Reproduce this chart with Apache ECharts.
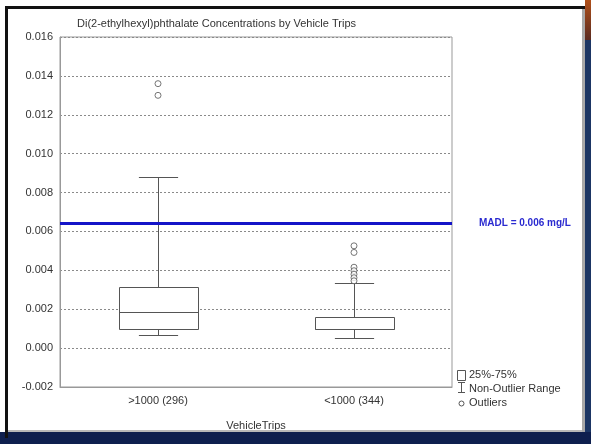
<!DOCTYPE html>
<html>
<head>
<meta charset="utf-8">
<script src="https://cdn.jsdelivr.net/npm/echarts@6/dist/echarts.min.js"></script>
<style>
html,body{margin:0;padding:0;background:#fff;}
#c{width:591px;height:444px;}
</style>
</head>
<body>
<div id="c"></div>
<script>
// ---- data ----
var categories = ['>1000 (296)', '<1000 (344)'];
var lowerWhisker = [0.00068, 0.00051];
var q1 = [0.00098, 0.00098];
var median = [0.00184, 0.00100];
var q3 = [0.00312, 0.00161];
var upperWhisker = [0.0088, 0.00333];
var outliersHigh = [0.0136, 0.0130];
var outliersLow = [0.00526, 0.00492, 0.00416, 0.00398, 0.00380, 0.00362, 0.00346];
var madl = 0.0064;
var yTicks = { min: -0.002, max: 0.016, interval: 0.002 };

var boxData = categories.map(function (c, i) {
  return [i, lowerWhisker[i], q1[i], median[i], q3[i], upperWhisker[i]];
});
var outlierData = outliersHigh.map(function (v) { return [0, v]; })
  .concat(outliersLow.map(function (v) { return [1, v]; }));

var FONT = '"Liberation Sans", Arial, sans-serif';
var INK = '#555';

function px(v) { return Math.round(v) + 0.5; }

var chart = echarts.init(document.getElementById('c'), null, { renderer: 'canvas' });
chart.setOption({
  animation: false,
  backgroundColor: '#fff',
  title: {
    text: 'Di(2-ethylhexyl)phthalate Concentrations by Vehicle Trips',
    left: 72, top: 13,
    textStyle: { fontFamily: FONT, fontSize: 11, fontWeight: 'normal', color: '#333' }
  },
  grid: { left: 60, top: 37, right: 139, bottom: 57, show: true, borderColor: '#999', borderWidth: 1, backgroundColor: 'transparent' },
  xAxis: {
    type: 'category',
    data: categories,
    boundaryGap: true,
    name: 'VehicleTrips',
    nameLocation: 'middle',
    nameGap: 33,
    nameTextStyle: { fontFamily: FONT, fontSize: 11, color: '#333' },
    axisLine: { onZero: false, lineStyle: { color: '#999' } },
    axisTick: { alignWithLabel: true, length: 3, lineStyle: { color: '#999' } },
    axisLabel: { fontFamily: FONT, fontSize: 11, color: '#333', margin: 8 },
    splitLine: { show: false }
  },
  yAxis: {
    type: 'value',
    min: yTicks.min, max: yTicks.max, interval: yTicks.interval,
    axisLine: { show: true, lineStyle: { color: '#999' } },
    axisTick: { show: false },
    axisLabel: {
      fontFamily: FONT, fontSize: 11, color: '#333', margin: 7,
      formatter: function (v) { return v.toFixed(3); }
    },
    splitLine: { show: true, lineStyle: { color: '#8a8a8a', type: [2, 2], width: 1 } }
  },
  series: [
    {
      type: 'custom',
      data: boxData,
      encode: { x: 0, y: [1, 2, 3, 4, 5] },
      z: 3,
      renderItem: function (params, api) {
        var idx = api.value(0);
        var cx = px(api.coord([idx, 0])[0]);
        var bw = api.size([1, 0])[0] * 0.4;
        var cw = bw / 2;
        var yLw = px(api.coord([idx, api.value(1)])[1]);
        var yQ1 = px(api.coord([idx, api.value(2)])[1]);
        var yMed = px(api.coord([idx, api.value(3)])[1]);
        var yQ3 = px(api.coord([idx, api.value(4)])[1]);
        var yUw = px(api.coord([idx, api.value(5)])[1]);
        var st = { stroke: INK, lineWidth: 1, fill: null };
        var bl = Math.round(cx - bw / 2) + 0.5, br = Math.round(cx + bw / 2) + 0.5;
        return {
          type: 'group',
          children: [
            { type: 'line', shape: { x1: cx, y1: yQ3, x2: cx, y2: yUw }, style: st },
            { type: 'line', shape: { x1: cx, y1: yQ1, x2: cx, y2: yLw }, style: st },
            { type: 'line', shape: { x1: cx - cw / 2, y1: yUw, x2: cx + cw / 2, y2: yUw }, style: st },
            { type: 'line', shape: { x1: cx - cw / 2, y1: yLw, x2: cx + cw / 2, y2: yLw }, style: st },
            { type: 'rect', shape: { x: bl, y: yQ3, width: br - bl, height: yQ1 - yQ3 }, style: { stroke: INK, lineWidth: 1, fill: '#fff' } },
            { type: 'line', shape: { x1: bl, y1: yMed, x2: br, y2: yMed }, style: st }
          ]
        };
      }
    },
    {
      type: 'scatter',
      data: outlierData,
      symbol: 'circle',
      symbolSize: 6,
      z: 4,
      itemStyle: { color: '#fff', borderColor: INK, borderWidth: 1 },
      markLine: {
        silent: true,
        precision: 5,
        symbol: ['none', 'none'],
        data: [{ yAxis: madl }],
        lineStyle: { color: '#1414c8', width: 3, type: 'solid' },
        label: {
          show: true, position: 'end', distance: 27,
          formatter: 'MADL = 0.006 mg/L',
          fontFamily: FONT, fontSize: 10, fontWeight: 'bold', color: '#2a2ad0'
        }
      }
    }
  ],
  graphic: [
    // slide frame decorations
    { type: 'rect', silent: true, shape: { x: 0, y: 432, width: 591, height: 12 }, style: { fill: '#0e1f4e' }, z: 100 },
    { type: 'rect', silent: true, shape: { x: 5, y: 430, width: 578, height: 2 }, style: { fill: '#b8b8b8' }, z: 100 },
    { type: 'rect', silent: true, shape: { x: 585, y: 40, width: 6, height: 392 }, style: { fill: '#1b3564' }, z: 100 },
    { type: 'rect', silent: true, shape: { x: 585, y: 0, width: 6, height: 40 },
      style: { fill: new echarts.graphic.LinearGradient(0, 0, 0, 1, [{ offset: 0, color: '#b0501a' }, { offset: 1, color: '#5a2a20' }]) }, z: 100 },
    { type: 'rect', silent: true, shape: { x: 582, y: 8, width: 3, height: 424 }, style: { fill: '#a8a8a8' }, z: 100 },
    { type: 'rect', silent: true, shape: { x: 5, y: 6, width: 580, height: 3 }, style: { fill: '#111' }, z: 100 },
    { type: 'rect', silent: true, shape: { x: 5, y: 6, width: 3, height: 432 }, style: { fill: '#111' }, z: 100 },
    // legend
    { type: 'rect', silent: true, shape: { x: 457.5, y: 370.5, width: 8, height: 10 }, style: { fill: '#fff', stroke: INK, lineWidth: 1 } },
    { type: 'line', silent: true, shape: { x1: 461.5, y1: 382, x2: 461.5, y2: 393 }, style: { stroke: INK, lineWidth: 1 } },
    { type: 'line', silent: true, shape: { x1: 458, y1: 382.5, x2: 465, y2: 382.5 }, style: { stroke: INK, lineWidth: 1 } },
    { type: 'line', silent: true, shape: { x1: 458, y1: 392.5, x2: 465, y2: 392.5 }, style: { stroke: INK, lineWidth: 1 } },
    { type: 'circle', silent: true, shape: { cx: 461.5, cy: 403.5, r: 2.5 }, style: { fill: '#fff', stroke: INK, lineWidth: 1 } },
    { type: 'text', silent: true, left: 469, top: 369, style: { text: '25%-75%', font: '11px ' + FONT, fill: '#333' } },
    { type: 'text', silent: true, left: 469, top: 383, style: { text: 'Non-Outlier Range', font: '11px ' + FONT, fill: '#333' } },
    { type: 'text', silent: true, left: 469, top: 397, style: { text: 'Outliers', font: '11px ' + FONT, fill: '#333' } }
  ]
});
</script>
</body>
</html>
